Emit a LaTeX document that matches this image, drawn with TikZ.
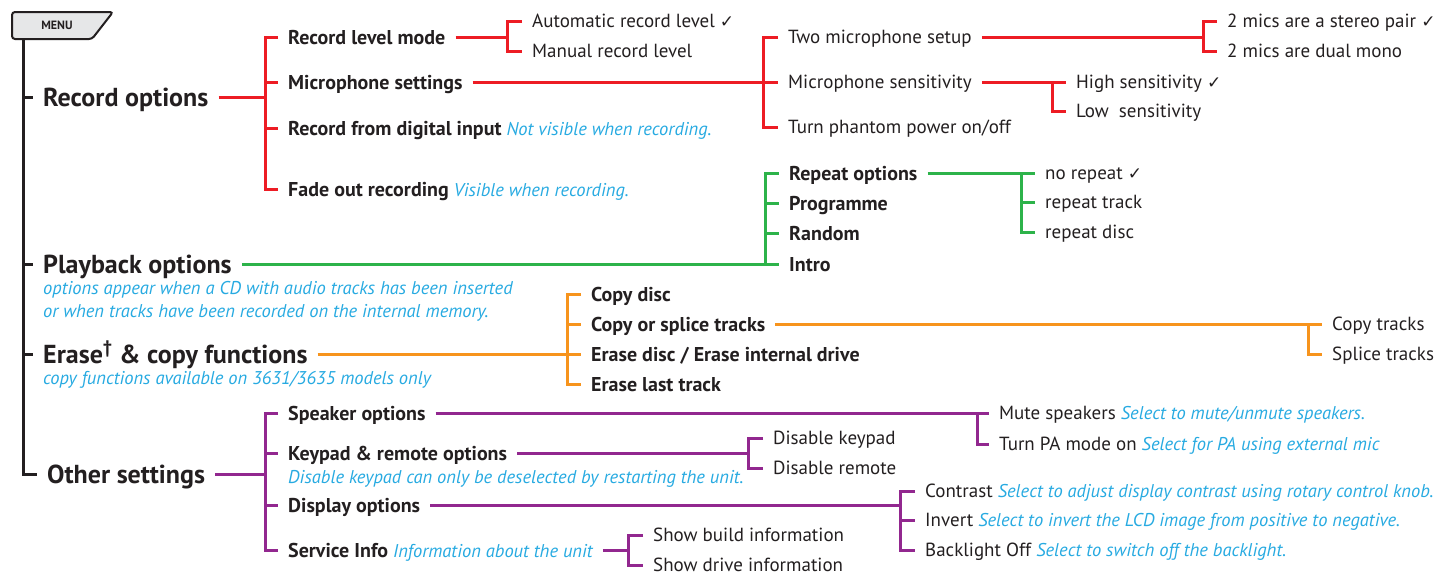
\documentclass[tikz,border=0pt]{standalone}
\usepackage{fontspec}
\setmainfont{PT Sans}
\newfontfamily\symfont{DejaVu Sans}
\usetikzlibrary{calc}
\definecolor{ink}{HTML}{231F20}
\definecolor{recred}{HTML}{ED1C24}
\definecolor{playgreen}{HTML}{2DB34A}
\definecolor{eraseorange}{HTML}{F7941D}
\definecolor{otherpurple}{HTML}{92278F}
\definecolor{notecyan}{HTML}{27AAE1}
\definecolor{menugray}{HTML}{E6E7E8}
\tikzset{
  every node/.style={inner xsep=10pt, inner ysep=0pt, text depth=0pt, text=ink},
  head/.style={anchor=west, font=\fontsize{26}{29}\selectfont\bfseries, text height=18pt},
  sub/.style={anchor=west, font=\fontsize{20}{22}\selectfont\bfseries, text height=14pt},
  item/.style={anchor=west, font=\fontsize{19}{21}\selectfont, text height=13.3pt},
  note/.style={anchor=west, font=\fontsize{18.5}{21}\selectfont\itshape, text=notecyan, text height=13pt},
  link/.style={line width=3pt}
}
\def\headnode{\node[head]}
\def\subnode{\node[sub]}
\def\itemnode{\node[item]}
\def\notenode{\node[note]}
\def\drawtrunk{\draw[link, ink]}
\def\drawrec{\draw[link, recred]}
\def\drawplay{\draw[link, playgreen]}
\def\drawerase{\draw[link, eraseorange]}
\def\drawother{\draw[link, otherpurple]}
\def\notetext#1{\textcolor{notecyan}{\fontsize{18.5}{21}\selectfont\mdseries\itshape #1}}
\def\chk{\ {\symfont\bfseries\fontsize{17}{17}\selectfont ✓}}

\begin{document}
\begin{tikzpicture}[x=1pt,y=-1pt]
\useasboundingbox (0,0) rectangle (1446,576);
% menu tab
\draw[ink, line width=2pt, fill=menugray, rounded corners=3pt] (12,12) -- (113,12) -- (92,39) -- (12,39) -- cycle;
\node[inner sep=0pt, font=\fontsize{12}{12}\selectfont\bfseries] (menu) at (57,25) {MENU};
\coordinate (trunk) at (23,39);

% main entries
\headnode (rec) at (33,97) {Record options};
\headnode (play) at (33,264) {Playback options};
\notenode (playnote1) at (33,288) {options appear when a CD with audio tracks has been inserted};
\notenode (playnote2) at (33,311) {or when tracks have been recorded on the internal memory.};
\headnode (erase) at (33,354) {Erase\textsuperscript{†} \& copy functions};
\notenode (erasenote) at (33,378) {copy functions available on 3631/3635 models only};
\headnode (other) at (37,474) {Other settings};

\drawtrunk (trunk) |- (other.west);
\foreach \h in {rec,play,erase}
  \drawtrunk (\h.west -| trunk) -- (\h.west);

% record options
\subnode (rlm) at (278,37) {Record level mode};
\subnode (mic) at (278,82) {Microphone settings};
\subnode (dig) at (278,128) {Record from digital input \notetext{Not visible when recording.}};
\subnode (fade) at (278,189) {Fade out recording \notetext{Visible when recording.}};
\coordinate (recB) at (265,97);
\drawrec (rec.east) -- (recB);
\drawrec (rlm.west) -| (recB) |- (fade.west);
\foreach \c in {mic,dig}
  \drawrec (\c.west -| recB) -- (\c.west);

\itemnode (autolvl) at (522,21) {Automatic record level\chk};
\itemnode (manual) at (522,51) {Manual record level};
\coordinate (rlmB) at (507,37);
\drawrec (rlm.east) -- (rlmB);
\drawrec (autolvl.west) -| (rlmB) |- (manual.west);

\itemnode (two) at (778,37) {Two microphone setup};
\itemnode (sens) at (778,82) {Microphone sensitivity};
\itemnode (phantom) at (778,127) {Turn phantom power on/off};
\coordinate (micB) at (763,82);
\drawrec (mic.east) -- (sens.west);
\drawrec (two.west) -| (micB) |- (phantom.west);

\itemnode (stereo) at (1217,21) {2 mics are a stereo pair\chk};
\itemnode (dual) at (1217,51) {2 mics are dual mono};
\coordinate (twoB) at (1203,37);
\drawrec (two.east) -- (twoB);
\drawrec (stereo.west) -| (twoB) |- (dual.west);

\itemnode (high) at (1066,82) {High sensitivity\chk};
\itemnode (low) at (1066,111) {Low\ \ sensitivity};
\coordinate (sensB) at (1052,82);
\drawrec (sens.east) -- (high.west);
\drawrec (sensB) |- (low.west);

% playback options
\subnode (rep) at (779,173) {Repeat options};
\subnode (prog) at (779,203) {Programme};
\subnode (rand) at (779,233) {Random};
\subnode (intro) at (779,264) {Intro};
\coordinate (playB) at (765,264);
\drawplay (play.east) -- (intro.west);
\drawplay (playB) |- (rep.west);
\foreach \c in {prog,rand}
  \drawplay (\c.west -| playB) -- (\c.west);

\itemnode (norep) at (1035,173) {no repeat\chk};
\itemnode (reptrack) at (1035,202) {repeat track};
\itemnode (repdisc) at (1035,232) {repeat disc};
\coordinate (repB) at (1021,173);
\drawplay (rep.east) -- (norep.west);
\drawplay (repB) |- (repdisc.west);
\drawplay (reptrack.west -| repB) -- (reptrack.west);

% erase & copy
\subnode (cdisc) at (581,294) {Copy disc};
\subnode (csplice) at (581,324) {Copy or splice tracks};
\subnode (edisc) at (581,354) {Erase disc / Erase internal drive};
\subnode (elast) at (581,384) {Erase last track};
\coordinate (eraseB) at (567,354);
\drawerase (erase.east) -- (edisc.west);
\drawerase (cdisc.west) -| (eraseB) |- (elast.west);
\drawerase (csplice.west -| eraseB) -- (csplice.west);

\itemnode (ctracks) at (1322,324) {Copy tracks};
\itemnode (stracks) at (1322,354) {Splice tracks};
\coordinate (spliceB) at (1308,324);
\drawerase (csplice.east) -- (ctracks.west);
\drawerase (spliceB) |- (stracks.west);

% other settings
\subnode (spk) at (278,413) {Speaker options};
\subnode (key) at (278,453) {Keypad \& remote options};
\notenode (keynote) at (278,477) {Disable keypad can only be deselected by restarting the unit.};
\subnode (disp) at (278,505) {Display options};
\subnode (serv) at (278,550) {Service Info \notetext{Information about the unit}};
\coordinate (otherB) at (265,474);
\drawother (other.east) -- (otherB);
\drawother (spk.west) -| (otherB) |- (serv.west);
\foreach \c in {key,disp}
  \drawother (\c.west -| otherB) -- (\c.west);

\itemnode (mute) at (989,413) {Mute speakers \notetext{Select to mute/unmute speakers.}};
\itemnode (pa) at (989,444) {Turn PA mode on \notetext{Select for PA using external mic}};
\coordinate (spkB) at (977,413);
\drawother (spk.east) -- (mute.west);
\drawother (spkB) |- (pa.west);

\itemnode (dkey) at (763,438) {Disable keypad};
\itemnode (drem) at (763,468) {Disable remote};
\coordinate (keyB) at (748,453);
\drawother (key.east) -- (keyB);
\drawother (dkey.west) -| (keyB) |- (drem.west);

\itemnode (contrast) at (915,491) {Contrast \notetext{Select to adjust display contrast using rotary control knob.}};
\itemnode (invert) at (915,520) {Invert \notetext{Select to invert the LCD image from positive to negative.}};
\itemnode (back) at (915,550) {Backlight Off \notetext{Select to switch off the backlight.}};
\coordinate (dispB) at (900,505);
\drawother (disp.east) -- (dispB);
\drawother (contrast.west) -| (dispB) |- (back.west);
\drawother (invert.west -| dispB) -- (invert.west);

\itemnode (build) at (643,535) {Show build information};
\itemnode (drive) at (643,565) {Show drive information};
\coordinate (servB) at (628,550);
\drawother (serv.east) -- (servB);
\drawother (build.west) -| (servB) |- (drive.west);
\end{tikzpicture}
\end{document}
